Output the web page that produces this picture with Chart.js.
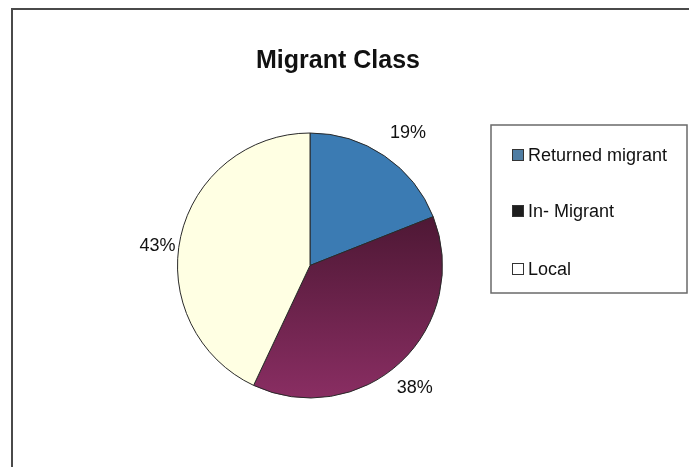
<!DOCTYPE html>
<html>
<head>
<meta charset="utf-8">
<script src="https://cdn.jsdelivr.net/npm/chart.js@4"></script>
<style>
  html, body { margin: 0; padding: 0; background: #fff; }
  #wrap { width: 689px; height: 467px; }
</style>
</head>
<body>
<div id="wrap"><canvas id="pieChart" width="689" height="467"></canvas></div>
<script>
const categories = ['Returned migrant', 'In- Migrant', 'Local'];
const shares = [19, 38, 43];
const sliceColors = ['#3b7bb3', '#6e2450', '#ffffe3'];
const chartTitle = 'Migrant Class';

// where the % labels sit, just outside each slice (plus a small hand nudge)
const labelNudge = [[8, 0], [-5, 6], [4, 16]];
function labelPos(chart, i) {
    const arc = chart.getDatasetMeta(0).data[i];
    const mid = (arc.startAngle + arc.endAngle) / 2;
    const r = arc.outerRadius * 1.21;
    return {
        x: arc.x + Math.cos(mid) * r + labelNudge[i][0],
        y: arc.y + Math.sin(mid) * r + labelNudge[i][1]
    };
}

const decorations = {
    id: 'decorations',
    beforeDraw(chart) {
        const ctx = chart.ctx;
        ctx.save();
        ctx.fillStyle = '#ffffff';
        ctx.fillRect(0, 0, chart.width, chart.height);
        // outer frame (top + left only visible)
        ctx.strokeStyle = '#4a4a4a';
        ctx.lineWidth = 2;
        ctx.beginPath();
        ctx.moveTo(12, chart.height);
        ctx.lineTo(12, 9);
        ctx.lineTo(chart.width, 9);
        ctx.stroke();
        ctx.restore();
    },
    afterDraw(chart) {
        const ctx = chart.ctx;
        ctx.save();
        // title
        ctx.fillStyle = '#111';
        ctx.font = 'bold 25px "Liberation Sans", Arial, sans-serif';
        ctx.textAlign = 'center';
        ctx.textBaseline = 'middle';
        ctx.fillText(chartTitle, 338, 61);

        // percentage labels
        ctx.font = '18px "Liberation Sans", Arial, sans-serif';
        shares.forEach((v, i) => {
            const p = labelPos(chart, i);
            ctx.fillText(v + '%', p.x, p.y);
        });

        // legend box
        ctx.strokeStyle = '#6a6a6a';
        ctx.lineWidth = 1.5;
        ctx.strokeRect(491, 125, 196, 168);
        ctx.textAlign = 'left';
        ctx.font = '18px "Liberation Sans", Arial, sans-serif';
        const rowY = [155, 211, 269];
        const swatch = ['#4f7da3', '#1e1e1e', '#ffffff'];
        categories.forEach((c, i) => {
            const y = rowY[i];
            ctx.fillStyle = swatch[i];
            ctx.fillRect(512, y - 6, 12, 12);
            ctx.strokeStyle = '#333';
            ctx.lineWidth = 1;
            ctx.strokeRect(512.5, y - 5.5, 11, 11);
            ctx.fillStyle = '#111';
            ctx.textBaseline = 'middle';
            ctx.fillText(c, 528, y + 1);
        });
        ctx.restore();
    }
};

function sliceFill(context) {
    const i = context.dataIndex;
    const chart = context.chart;
    if (i !== 1 || !chart.chartArea) return sliceColors[i];
    const a = chart.chartArea;
    const g = chart.ctx.createLinearGradient(0, a.top + 80, 0, a.bottom);
    g.addColorStop(0, '#4c1733');
    g.addColorStop(1, '#8a2e63');
    return g;
}

const pieChart = new Chart(document.getElementById('pieChart').getContext('2d'), {
    type: 'pie',
    data: {
        labels: categories,
        datasets: [{
            data: shares,
            backgroundColor: sliceFill,
            borderColor: '#2a2a2a',
            borderWidth: 1
        }]
    },
    options: {
        responsive: false,
        animation: false,
        layout: {
            padding: { left: 177, right: 246, top: 131, bottom: 67 }
        },
        plugins: {
            legend: { display: false },
            tooltip: { enabled: false },
            title: { display: false }
        }
    },
    plugins: [decorations]
});
</script>
</body>
</html>
